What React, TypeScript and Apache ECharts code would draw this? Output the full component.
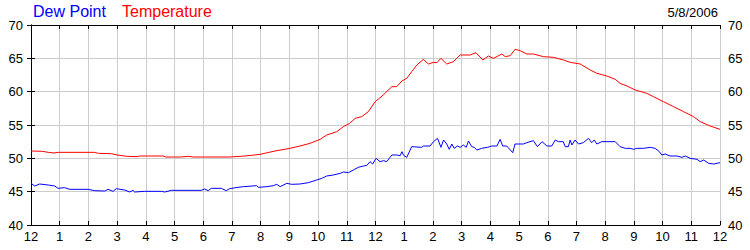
import React, { useEffect, useRef } from "react";
import * as echarts from "echarts";

const chartDate = "5/8/2006";
const seriesNames = ["Dew Point", "Temperature"];
const hourTicks = [12, 1, 2, 3, 4, 5, 6, 7, 8, 9, 10, 11, 12, 1, 2, 3, 4, 5, 6, 7, 8, 9, 10, 11, 12];

const tempHours = [
  0, 0.4, 0.6, 0.8, 0.95, 2.2, 2.35, 2.8, 3.0, 3.35, 3.7, 3.8, 4.6, 4.7, 5.2, 5.5, 5.65, 6.0, 6.9,
  7.46, 7.98, 8.5, 9.02, 9.37, 9.72, 10.07, 10.3, 10.65, 10.88, 11.1, 11.29, 11.52, 11.75, 11.99,
  12.27, 12.57, 12.74, 12.92, 13.09, 13.26, 13.44, 13.67, 13.84, 14.02, 14.14, 14.28, 14.48, 14.71,
  14.95, 15.3, 15.5, 15.74, 15.93, 16.11, 16.4, 16.52, 16.69, 16.86, 17.04, 17.27, 17.5, 17.85,
  18.2, 18.55, 18.78, 19.13, 19.48, 19.71, 20.06, 20.35, 20.52, 20.76, 21.05, 21.45, 21.68, 22.03,
  22.38, 22.73, 23.08, 23.31, 23.66, 24,
];
const tempValues = [
  51.1, 51.05, 50.9, 50.8, 50.9, 50.9, 50.75, 50.7, 50.5, 50.3, 50.25, 50.35, 50.35, 50.2, 50.2, 50.3, 50.2, 50.2, 50.2,
  50.35, 50.6, 51.1, 51.5, 51.85, 52.25, 52.85, 53.5, 54.0, 54.75, 55.25, 56.0, 56.25, 57.0, 58.5,
  59.5, 60.75, 60.75, 61.6, 62.0, 63.0, 64.0, 64.85, 64.15, 64.4, 64.35, 65.0, 64.15, 64.5,
  65.5, 65.5, 65.85, 64.75, 65.35, 65.0, 65.65, 65.25, 65.4, 66.35, 66.15, 65.65, 65.65, 65.25,
  65.15, 64.75, 64.4, 64.15, 63.25, 62.75, 62.35, 61.85, 61.25, 60.85, 60.25, 59.75, 59.25, 58.5,
  57.75, 57.0, 56.25, 55.5, 54.85, 54.35,
];

const dewHours = [
  0, 0.13, 0.3, 0.6, 0.83, 0.94, 1.17, 1.35, 1.99, 2.22, 2.57, 2.68, 2.86, 2.97, 3.26, 3.44, 3.55, 3.61,
  3.96, 4.54, 4.66, 4.89, 5.93, 6.05, 6.17, 6.28, 6.63, 6.8, 6.92, 7.21, 7.4, 7.86, 7.92, 8.21, 8.44,
  8.56, 8.68, 8.91, 9.08, 9.37, 9.66, 9.95, 10.13, 10.3, 10.53, 10.77, 10.88, 11.06, 11.23, 11.4,
  11.58, 11.7, 11.81, 11.9, 12.02, 12.16, 12.28, 12.39, 12.57, 12.74, 12.86, 12.92, 12.98, 13.09,
  13.26, 13.61, 13.67, 13.9, 14.02, 14.16, 14.28, 14.37, 14.48, 14.57, 14.66, 14.74, 14.85, 14.95,
  15.06, 15.16, 15.24, 15.35, 15.44, 15.53, 15.7, 15.9, 16.05, 16.23, 16.34, 16.43, 16.57, 16.78,
  16.86, 17.15, 17.27, 17.5, 17.64, 17.8, 17.97, 18.14, 18.26, 18.37, 18.54, 18.61, 18.72, 18.78,
  18.84, 18.95, 19.07, 19.24, 19.42, 19.53, 19.62, 19.71, 19.88, 20.06, 20.35, 20.52, 20.7, 20.87,
  20.99, 21.1, 21.34, 21.57, 21.74, 21.89, 21.97, 22.09, 22.26, 22.5, 22.67, 22.79, 22.96, 23.2,
  23.31, 23.43, 23.6, 23.78, 24,
];
const dewValues = [
  46.25, 45.85, 46.15, 46.0, 45.85, 45.5, 45.6, 45.35, 45.35, 45.15, 45.1, 45.35, 45.05, 45.45, 45.25, 44.95, 45.2, 44.95,
  45.05, 45.05, 44.95, 45.2, 45.2, 45.4, 45.15, 45.5, 45.5, 45.15, 45.45, 45.65, 45.75, 45.9, 45.65, 45.75, 45.9,
  46.1, 45.75, 46.25, 46.1, 46.15, 46.35, 46.75, 47.0, 47.35, 47.5, 47.75, 47.95, 47.85, 48.25, 48.65,
  48.85, 48.95, 49.5, 49.15, 50.0, 49.5, 49.65, 49.5, 50.5, 50.5, 50.4, 51.0, 50.45, 50.15,
  51.75, 51.65, 51.85, 51.85, 52.5, 53.0, 51.65, 52.75, 52.15, 51.35, 52.15, 51.5, 51.85, 51.65,
  52.0, 51.65, 52.6, 51.75, 51.65, 51.25, 51.5, 51.65, 51.85, 51.85, 52.85, 51.85, 51.85, 50.85,
  52.15, 52.15, 52.35, 52.65, 51.75, 52.5, 51.85, 51.85, 52.75, 52.5, 52.5, 51.75, 51.75, 52.75,
  52.0, 52.75, 52.15, 52.35, 53.0, 52.35, 52.75, 52.15, 52.5, 52.5, 52.5, 51.75, 51.5, 51.5,
  51.35, 51.5, 51.5, 51.65, 51.5, 51.0, 50.5, 50.65, 50.35, 50.35, 50.15, 50.35, 50.0, 49.85,
  49.5, 49.75, 49.25, 49.15, 49.35,
];

const FONT = "Arial, 'Liberation Sans', sans-serif";

export default function App() {
  const ref = useRef<HTMLDivElement>(null);

  useEffect(() => {
    document.body.style.margin = "0";
    if (!ref.current) return;
    const chart = echarts.init(ref.current, undefined, { renderer: "svg" });

    const yAxisBase = {
      type: "value" as const,
      min: 40,
      max: 70,
      interval: 5,
      axisLine: { show: true, lineStyle: { color: "#000", width: 1 } },
      axisTick: { show: true, inside: false, length: 4, lineStyle: { color: "#000" } },
      axisLabel: { color: "#000", fontSize: 13, fontFamily: FONT, margin: 8 },
    };

    chart.setOption({
      animation: false,
      backgroundColor: "#fff",
      grid: { left: 31, right: 30, top: 25, bottom: 25, containLabel: false },
      graphic: [
        {
          type: "text",
          left: 33,
          top: 3,
          style: { text: seriesNames[0], fill: "#0000ff", fontSize: 16, fontFamily: FONT },
        },
        {
          type: "text",
          left: 122,
          top: 3,
          style: { text: seriesNames[1], fill: "#ff0000", fontSize: 16, fontFamily: FONT },
        },
        {
          type: "text",
          right: 32,
          top: 6,
          style: { text: chartDate, fill: "#000", fontSize: 13, fontFamily: FONT },
        },
      ],
      xAxis: [
        {
          type: "value",
          position: "bottom",
          min: 0,
          max: 24,
          interval: 1,
          axisLine: { show: true, lineStyle: { color: "#000", width: 1 } },
          axisTick: { show: true, inside: true, length: 4, lineStyle: { color: "#000" } },
          splitLine: { show: true, lineStyle: { color: "#cccccc", width: 1 } },
          axisLabel: {
            color: "#000",
            fontSize: 13,
            fontFamily: FONT,
            margin: 5,
            formatter: (v: number) => String(hourTicks[Math.round(v)] ?? ""),
          },
        },
        {
          type: "value",
          position: "top",
          min: 0,
          max: 24,
          interval: 1,
          axisLine: { show: true, lineStyle: { color: "#000", width: 1 } },
          axisTick: { show: true, inside: true, length: 4, lineStyle: { color: "#000" } },
          splitLine: { show: false },
          axisLabel: { show: false },
        },
      ],
      yAxis: [
        {
          ...yAxisBase,
          position: "left",
          splitLine: { show: true, lineStyle: { color: "#cccccc", width: 1 } },
        },
        {
          ...yAxisBase,
          position: "right",
          splitLine: { show: false },
        },
      ],
      series: [
        {
          name: seriesNames[0],
          type: "line",
          xAxisIndex: 0,
          yAxisIndex: 0,
          showSymbol: false,
          symbol: "none",
          lineStyle: { color: "#0000ff", width: 1 },
          itemStyle: { color: "#0000ff" },
          data: dewHours.map((h, i) => [h, dewValues[i]]),
        },
        {
          name: seriesNames[1],
          type: "line",
          xAxisIndex: 0,
          yAxisIndex: 0,
          showSymbol: false,
          symbol: "none",
          lineStyle: { color: "#ff0000", width: 1 },
          itemStyle: { color: "#ff0000" },
          data: tempHours.map((h, i) => [h, tempValues[i]]),
        },
      ],
    });

    return () => chart.dispose();
  }, []);

  return (
    <div
      ref={ref}
      style={{ position: "absolute", left: 0, top: 0, width: 750, height: 250 }}
    />
  );
}
